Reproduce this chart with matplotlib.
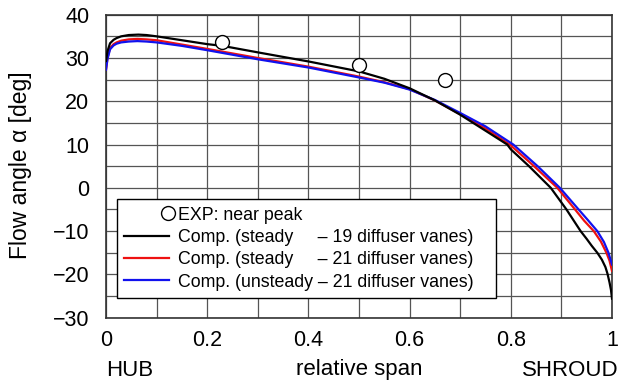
import matplotlib
matplotlib.use("Agg")
import matplotlib.pyplot as plt
from matplotlib.legend_handler import HandlerLine2D

plt.rcParams['font.family'] = ['Liberation Sans', 'DejaVu Sans']

# ---------------- data ----------------
exp_span = [0.23, 0.50, 0.67]
exp_angle = [33.6, 28.4, 24.9]

span_19 = [0.0, 0.003, 0.008, 0.015, 0.021, 0.03, 0.045, 0.064, 0.08, 0.10, 0.15, 0.20, 0.23,
           0.30, 0.40, 0.50, 0.55, 0.60, 0.65, 0.70, 0.75, 0.793, 0.80, 0.836, 0.879, 0.91,
           0.938, 0.95, 0.96, 0.971, 0.98, 0.987, 0.991, 0.995, 0.998, 1.0]
angle_19 = [29.3, 31.6, 33.4, 34.2, 34.6, 35.0, 35.3, 35.4, 35.3, 35.0, 34.1, 33.2, 32.8,
            31.3, 29.2, 26.9, 25.2, 23.0, 20.2, 16.9, 13.2, 10.0, 8.9, 5.0, 0.0, -5.0,
            -10.0, -11.8, -13.4, -15.0, -16.6, -18.3, -19.8, -21.8, -23.6, -25.6]

span_21s = [0.0, 0.003, 0.008, 0.015, 0.021, 0.03, 0.045, 0.062, 0.08, 0.10, 0.15, 0.20,
            0.30, 0.40, 0.50, 0.55, 0.60, 0.65, 0.70, 0.75, 0.798, 0.846, 0.892, 0.927,
            0.945, 0.964, 0.978, 0.989, 0.995, 1.0]
angle_21s = [27.3, 30.0, 32.3, 33.2, 33.6, 34.0, 34.3, 34.4, 34.3, 34.1, 33.1, 32.1,
             30.0, 28.0, 25.7, 24.4, 22.8, 20.2, 17.0, 13.7, 10.0, 5.0, 0.0, -5.0,
             -7.6, -10.0, -12.4, -15.0, -16.8, -19.2]

span_21u = [0.0, 0.003, 0.008, 0.015, 0.021, 0.03, 0.045, 0.062, 0.08, 0.10, 0.15, 0.20,
            0.30, 0.40, 0.50, 0.55, 0.60, 0.65, 0.70, 0.75, 0.805, 0.853, 0.897, 0.934,
            0.952, 0.971, 0.984, 0.993, 1.0]
angle_21u = [27.3, 29.8, 32.0, 32.9, 33.3, 33.6, 33.8, 33.9, 33.8, 33.6, 32.8, 31.8,
             29.7, 27.8, 25.5, 24.3, 22.7, 20.3, 17.3, 14.2, 10.0, 5.0, 0.0, -5.0,
             -7.4, -10.0, -12.5, -15.0, -17.7]

x_ticks = [0, 0.2, 0.4, 0.6, 0.8, 1.0]
x_tick_labels = ["0", "0.2", "0.4", "0.6", "0.8", "1"]
y_ticks = [-30, -20, -10, 0, 10, 20, 30, 40]
y_tick_labels = ["\u221230", "\u221220", "\u221210", "0", "10", "20", "30", "40"]

labels = ["EXP: near peak",
          "Comp. (steady     \u2013 19 diffuser vanes)   ",
          "Comp. (steady     \u2013 21 diffuser vanes)   ",
          "Comp. (unsteady \u2013 21 diffuser vanes)   "]

# ---------------- figure ----------------
fig = plt.figure(figsize=(6.19, 3.87), dpi=100)
ax = fig.add_axes([106/619, 1 - 317.7/387, 506/619, 303/387])

ax.set_xlim(0, 1)
ax.set_ylim(-30, 40)
ax.set_xticks(x_ticks)
ax.set_xticklabels(x_tick_labels)
ax.set_yticks(y_ticks)
ax.set_yticklabels(y_tick_labels)
ax.set_xticks([i / 10 for i in range(11)], minor=True)
ax.set_yticks(list(range(-30, 41, 5)), minor=True)
ax.grid(True, which='both', color='#555555', linewidth=0.9)
ax.set_axisbelow(True)
ax.tick_params(which='both', length=0, labelsize=15.5)
ax.tick_params(axis='x', pad=9)
ax.tick_params(axis='y', pad=12)
for s in ax.spines.values():
    s.set_linewidth(1.2)
    s.set_color('#333333')

l0, = ax.plot(exp_span, exp_angle, linestyle='none', marker='o', markersize=10,
              markerfacecolor='white', markeredgecolor='black', markeredgewidth=1.0, zorder=5)
l1, = ax.plot(span_19, angle_19, color='black', linewidth=1.6, zorder=4)
l2, = ax.plot(span_21s, angle_21s, color='#ee1111', linewidth=1.6, zorder=3)
l3, = ax.plot(span_21u, angle_21u, color='#1111ee', linewidth=1.6, zorder=3)


class RightMarker(HandlerLine2D):
    def get_xdata(self, legend, xdescent, ydescent, width, height, fontsize):
        pos = -xdescent + width - 0.5
        return [pos - 0.5, pos + 0.5], [pos]


leg = ax.legend([l0, l1, l2, l3], labels, loc='lower left',
                bbox_to_anchor=(11/506, 20/303), borderaxespad=0,
                fontsize=12.8, frameon=True, fancybox=False, framealpha=1,
                edgecolor='black', handlelength=2.5, handletextpad=0.55,
                labelspacing=0.3, borderpad=0.4,
                handler_map={l0: RightMarker()})
leg.get_frame().set_linewidth(1.0)

fig.text(21/619, 1 - 165/387, "Flow angle \u03b1 [deg]", fontsize=16.5,
         rotation=90, ha='center', va='center')

fig.text(106/619, 1 - 370/387, "HUB", fontsize=16, ha='left', va='center')
fig.text(359/619, 1 - 370/387, "relative span", fontsize=16, ha='center', va='center')
fig.text(619/619, 1 - 370/387, "SHROUD", fontsize=16, ha='right', va='center')

fig.savefig("out.png", dpi=100)
